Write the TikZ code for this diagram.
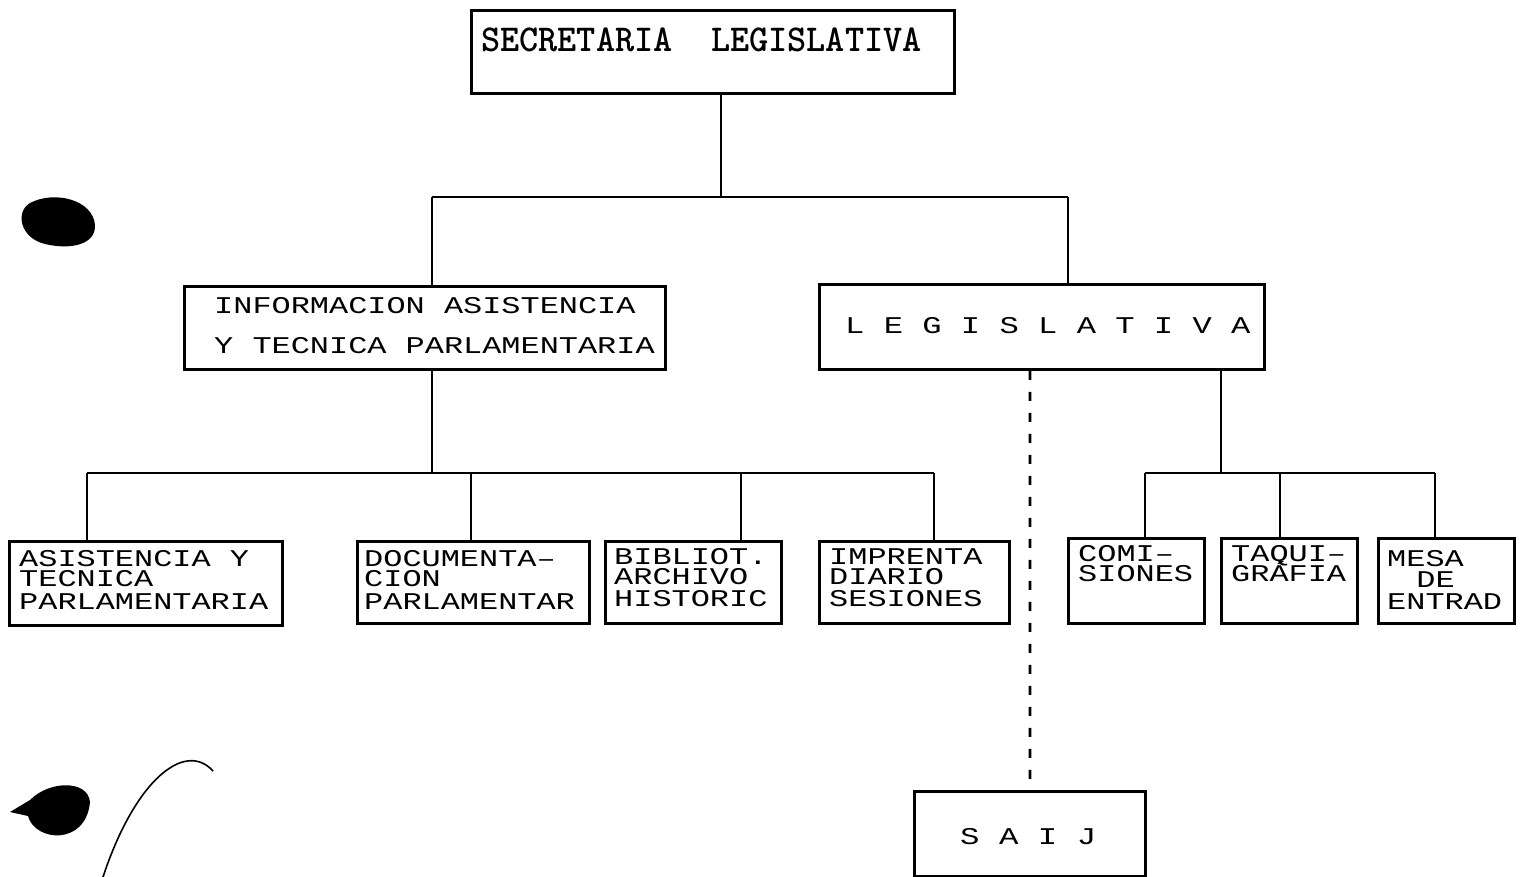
\documentclass[tikz,border=0pt]{standalone}
\usepackage{fontspec}
\usepackage{graphicx}
\newfontfamily\lmono{Liberation Mono}
\newcommand\sx[1]{\scalebox{1.33}[1]{#1}}
\newcommand\myline[1]{\hbox{#1}}
\newcommand\stk[2]{\sx{\vtop{\baselineskip=#1pt\lineskiplimit=-100pt\lineskip=0pt #2}}}
\newcommand\boxat[5]{\node[orgbox, minimum width={#4-#2}, minimum height={#5-#3}] (#1) at (#2,-#3) {};}
\tikzset{
  orgbox/.style={draw, line width=2.8pt, inner sep=0pt, anchor=north west},
  lbl/.style={anchor=base west, inner sep=0pt, font=\lmono\fontsize{24}{24}\selectfont},
  ttl/.style={anchor=base west, inner sep=0pt, font=\ttfamily\bfseries\fontsize{38}{38}\selectfont},
  wire/.style={line width=2.8pt},
  dwire/.style={line width=2.8pt, dash pattern=on 9pt off 12pt},
}
\begin{document}
\begin{tikzpicture}[x=1pt,y=1pt]
\fill[white] (0,0) rectangle (1523,-877);
\useasboundingbox (0,0) rectangle (1523,-877);

% boxes
\boxat{top}{470}{9}{953}{92}
\boxat{info}{183}{285}{664}{368}
\boxat{legis}{818}{283}{1263}{368}
\boxat{asis}{8}{540}{281}{624}
\boxat{docu}{356}{540}{588}{622}
\boxat{bib}{604}{540}{780}{622}
\boxat{impr}{818}{540}{1008}{622}
\boxat{comi}{1067}{537}{1203}{622}
\boxat{taqui}{1220}{537}{1356}{622}
\boxat{mesa}{1377}{537}{1513}{622}
\boxat{saij}{913}{790}{1144}{875}

% texts
\node[ttl] (top-t) at (481,-52) {\scalebox{0.96}[1]{SECRETARIA\ \ LEGISLATIVA}};
\node[lbl] (info-t) at (214,-313) {\stk{40}{\myline{INFORMACION ASISTENCIA}\myline{Y TECNICA PARLAMENTARIA}}};
\node[lbl] (legis-t) at (845,-333) {\scalebox{1.34}[1]{L E G I S L A T I V A}};
\node[lbl] (saij-t) at (960,-844) {\scalebox{1.35}[1]{S A I J}};
\node[lbl] (asis-t) at (19,-566) {\stk{20}{\myline{ASISTENCIA Y}\myline{TECNICA}\vskip3pt\myline{PARLAMENTARIA}}};
\node[lbl] (docu-t) at (364,-566) {\stk{20}{\myline{DOCUMENTA–}\myline{CION}\vskip3pt\myline{PARLAMENTAR}}};
\node[lbl] (bib-t) at (614,-564) {\stk{20}{\myline{BIBLIOT.}\myline{ARCHIVO}\vskip2pt\myline{HISTORIC}}};
\node[lbl] (impr-t) at (829,-564) {\stk{20}{\myline{IMPRENTA}\myline{DIARIO}\vskip2pt\myline{SESIONES}}};
\node[lbl] (comi-t) at (1078,-561) {\stk{20}{\myline{COMI–}\myline{SIONES}}};
\node[lbl] (taqui-t) at (1231,-561) {\stk{20}{\myline{TAQUI–}\myline{GRÁFIA}}};
\node[lbl] (mesa-t) at (1387,-566) {\stk{21.5}{\myline{MESA}\myline{\hspace{22pt}DE}\myline{ENTRAD}}};

% bus coordinates
\coordinate (j0) at (721,-197);
\coordinate (j1) at (432,-197);
\coordinate (j2) at (1068,-197);
\coordinate (k0) at (432,-473);
\coordinate (k1) at (87,-473);
\coordinate (k2) at (471,-473);
\coordinate (k3) at (741,-473);
\coordinate (k4) at (934,-473);
\coordinate (m0) at (1221,-473);
\coordinate (m1) at (1145,-473);
\coordinate (m2) at (1280,-473);
\coordinate (m3) at (1435,-473);
\coordinate (s0) at (1030,-473);

% connectors
\draw[wire] (top.south -| j0) -- (j0);
\draw[wire] (j1) -- (j2);
\draw[wire] (j1) -- (j1 |- info.north);
\draw[wire] (j2) -- (j2 |- legis.north);
\draw[wire] (info.south -| k0) -- (k0);
\draw[wire] (k1) -- (k4);
\draw[wire] (k1) -- (k1 |- asis.north);
\draw[wire] (k2) -- (k2 |- docu.north);
\draw[wire] (k3) -- (k3 |- bib.north);
\draw[wire] (k4) -- (k4 |- impr.north);
\draw[wire] (legis.south -| m0) -- (m0);
\draw[wire] (m1) -- (m3);
\draw[wire] (m1) -- (m1 |- comi.north);
\draw[wire] (m2) -- (m2 |- taqui.north);
\draw[wire] (m3) -- (m3 |- mesa.north);
\draw[dwire] (legis.south -| s0) -- (saij.north);

% scan marks
\fill (95,-225) .. controls (93,-200) and (55,-190) .. (30,-203)
  .. controls (15,-212) and (20,-238) .. (45,-244)
  .. controls (70,-250) and (96,-245) .. (95,-225) -- cycle;
\fill (90,-802) .. controls (88,-780) and (50,-780) .. (30,-800)
  -- (10,-812) -- (28,-816)
  .. controls (35,-842) and (86,-846) .. (90,-802) -- cycle;
\draw[line width=1.6pt] (213,-771) .. controls (185,-740) and (135,-780) .. (103,-877);
\end{tikzpicture}
\end{document}
